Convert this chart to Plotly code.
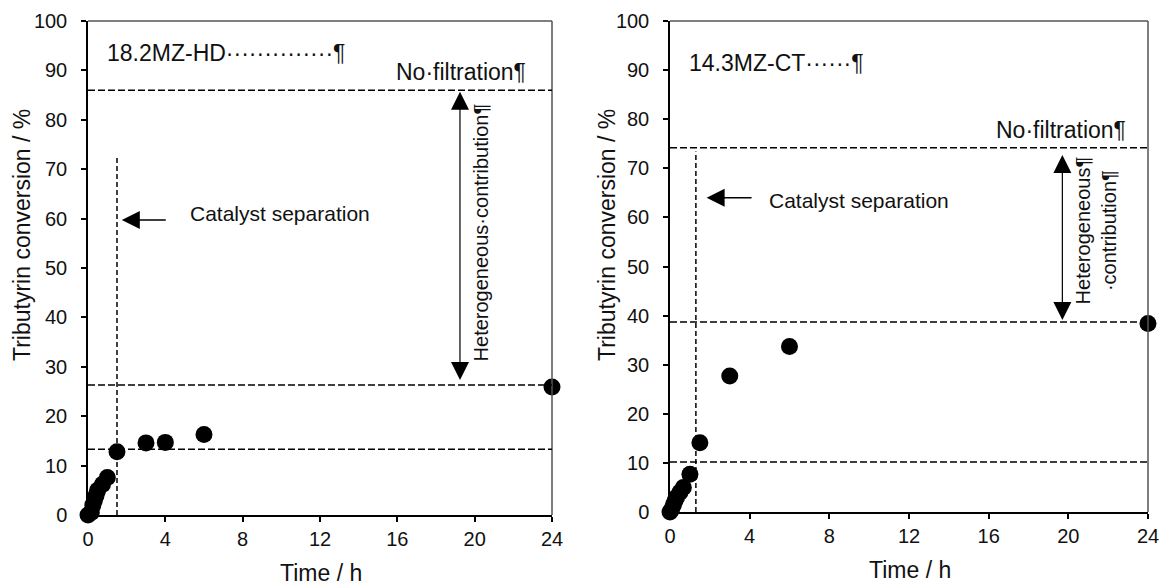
import plotly.graph_objects as go

# ---- data ----
hd_time = [0, 0.17, 0.25, 0.33, 0.42, 0.5, 0.75, 1.0, 1.5, 3, 4, 6, 24]
hd_conv = [0, 0.5, 2.0, 3.0, 4.0, 5.0, 6.2, 7.6, 12.8, 14.6, 14.7, 16.3, 25.9]
ct_time = [0, 0.08, 0.17, 0.25, 0.33, 0.5, 0.67, 1.0, 1.5, 3, 6, 24]
ct_conv = [0, 0.5, 1.5, 2.3, 3.0, 4.0, 5.0, 7.7, 14.1, 27.7, 33.7, 38.4]

hd_levels = [86.0, 26.3, 13.3]   # no filtration, final filtered, at separation
ct_levels = [74.2, 38.7, 10.2]
hd_sep_time, hd_sep_top = 1.5, 72.5
ct_sep_time, ct_sep_top = 1.3, 73.4

x_ticks = [0, 4, 8, 12, 16, 20, 24]
y_ticks = list(range(0, 101, 10))

FONT = "Liberation Sans, Arial, sans-serif"
W, H = 1160, 585

fig = go.Figure()
fig.add_trace(go.Scatter(x=hd_time, y=hd_conv, mode="markers", xaxis="x", yaxis="y",
                         marker=dict(color="black", size=17), cliponaxis=False, showlegend=False))
fig.add_trace(go.Scatter(x=ct_time, y=ct_conv, mode="markers", xaxis="x2", yaxis="y2",
                         marker=dict(color="black", size=17), cliponaxis=False, showlegend=False))

axis_common = dict(showgrid=False, zeroline=False, showline=True, linecolor="black", linewidth=1.5,
                   ticks="outside", ticklen=5, tickwidth=1.5, tickcolor="black", automargin=False,
                   tickfont=dict(family=FONT, size=20, color="#111"))

fig.update_layout(
    template="none",
    width=W, height=H, margin=dict(l=0, r=0, t=0, b=0, pad=0),
    paper_bgcolor="white", plot_bgcolor="white",
    xaxis=dict(domain=[88 / W, 552 / W], range=[0, 24], tickvals=x_ticks, anchor="y",
               ticklabelstandoff=0, **axis_common),
    yaxis=dict(domain=[1 - 515 / H, 1 - 21 / H], range=[0, 100], tickvals=y_ticks, anchor="x",
               ticklabelstandoff=10, **axis_common),
    xaxis2=dict(domain=[670 / W, 1148 / W], range=[0, 24], tickvals=x_ticks, anchor="y2",
                ticklabelstandoff=0, **axis_common),
    yaxis2=dict(domain=[1 - 512 / H, 1 - 21 / H], range=[0, 100], tickvals=y_ticks, anchor="x2",
                ticklabelstandoff=10, **axis_common),
)

shapes = []
for xr, yr, levels, st, stop in [("x", "y", hd_levels, hd_sep_time, hd_sep_top),
                                  ("x2", "y2", ct_levels, ct_sep_time, ct_sep_top)]:
    # top / right frame
    shapes.append(dict(type="line", xref=xr + " domain", yref=yr + " domain", x0=0, x1=1, y0=1, y1=1,
                       line=dict(color="#555", width=1.5)))
    shapes.append(dict(type="line", xref=xr + " domain", yref=yr + " domain", x0=1, x1=1, y0=0, y1=1,
                       line=dict(color="#555", width=1.5)))
    for lv in levels:
        shapes.append(dict(type="line", xref=xr, yref=yr, x0=0, x1=24, y0=lv, y1=lv,
                           line=dict(color="black", width=1.5, dash="7px,3px")))
    shapes.append(dict(type="line", xref=xr, yref=yr, x0=st, x1=st, y0=0, y1=stop,
                       line=dict(color="black", width=1.5, dash="5px,3px")))
fig.update_layout(shapes=shapes)

tf = dict(family=FONT, size=20, color="#111")
tl = dict(family=FONT, size=23, color="#111")
tc = dict(family=FONT, size=21, color="#111")
ann = []
# left panel
ann += [
    dict(xref="x", yref="y", x=0.88, y=93.5, xanchor="left", yanchor="middle", showarrow=False,
         text="18.2MZ-HD··············¶", font=tl),
    dict(xref="x", yref="y", x=22.76, y=89.7, xanchor="right", yanchor="middle", showarrow=False,
         text="No·filtration¶", font=tl),
    dict(xref="x", yref="y", x=5.16, y=61.1, xanchor="left", yanchor="middle", showarrow=False,
         text="Catalyst separation", font=tc),
    dict(xref="x", yref="y", axref="x", ayref="y", x=1.75, y=59.7, ax=4.1, ay=59.7, text="",
         showarrow=True, arrowhead=2, arrowsize=2.4, arrowwidth=1.5, arrowcolor="black"),
    dict(xref="x", yref="y", axref="x", ayref="y", x=19.24, y=85.7, ax=19.24, ay=27.0, text="",
         showarrow=True, arrowhead=2, arrowside="end+start", arrowsize=3.0, arrowwidth=1.2,
         arrowcolor="black"),
    dict(xref="x", yref="y", x=20.3, y=57.3, textangle=-90, showarrow=False,
         text="Heterogeneous·contribution¶", font=tf),
]
# right panel
ann += [
    dict(xref="x2", yref="y2", x=0.84, y=91.4, xanchor="left", yanchor="middle", showarrow=False,
         text="14.3MZ-CT······¶", font=tl),
    dict(xref="x2", yref="y2", x=23.0, y=77.8, xanchor="right", yanchor="middle", showarrow=False,
         text="No·filtration¶", font=tl),
    dict(xref="x2", yref="y2", x=4.85, y=63.5, xanchor="left", yanchor="middle", showarrow=False,
         text="Catalyst separation", font=tc),
    dict(xref="x2", yref="y2", axref="x2", ayref="y2", x=1.84, y=64.0, ax=4.17, ay=64.0, text="",
         showarrow=True, arrowhead=2, arrowsize=2.4, arrowwidth=1.5, arrowcolor="black"),
    dict(xref="x2", yref="y2", axref="x2", ayref="y2", x=19.7, y=72.7, ax=19.7, ay=38.8, text="",
         showarrow=True, arrowhead=2, arrowside="end+start", arrowsize=3.0, arrowwidth=1.2,
         arrowcolor="black"),
    dict(xref="x2", yref="y2", x=21.4, y=57.4, textangle=-90, showarrow=False,
         text="Heterogeneous¶<br>·contribution¶", font=tf),
]
# axis titles
tt = dict(family=FONT, size=23, color="#111")
ann += [
    dict(xref="paper", yref="paper", x=321 / W, y=1 - 573 / H, xanchor="center", yanchor="middle",
         text="Time / h", showarrow=False, font=tt),
    dict(xref="paper", yref="paper", x=910 / W, y=1 - 570 / H, xanchor="center", yanchor="middle",
         text="Time / h", showarrow=False, font=tt),
    dict(xref="paper", yref="paper", x=22 / W, y=1 - 235 / H, xanchor="center", yanchor="middle",
         text="Tributyrin conversion / %", textangle=-90, showarrow=False, font=tt),
    dict(xref="paper", yref="paper", x=607 / W, y=1 - 235 / H, xanchor="center", yanchor="middle",
         text="Tributyrin conversion / %", textangle=-90, showarrow=False, font=tt),
]
fig.update_layout(annotations=ann)

fig.write_html("out.html", config={"displayModeBar": False},
               post_script="document.body.style.margin='0';document.body.style.overflow='hidden';")
